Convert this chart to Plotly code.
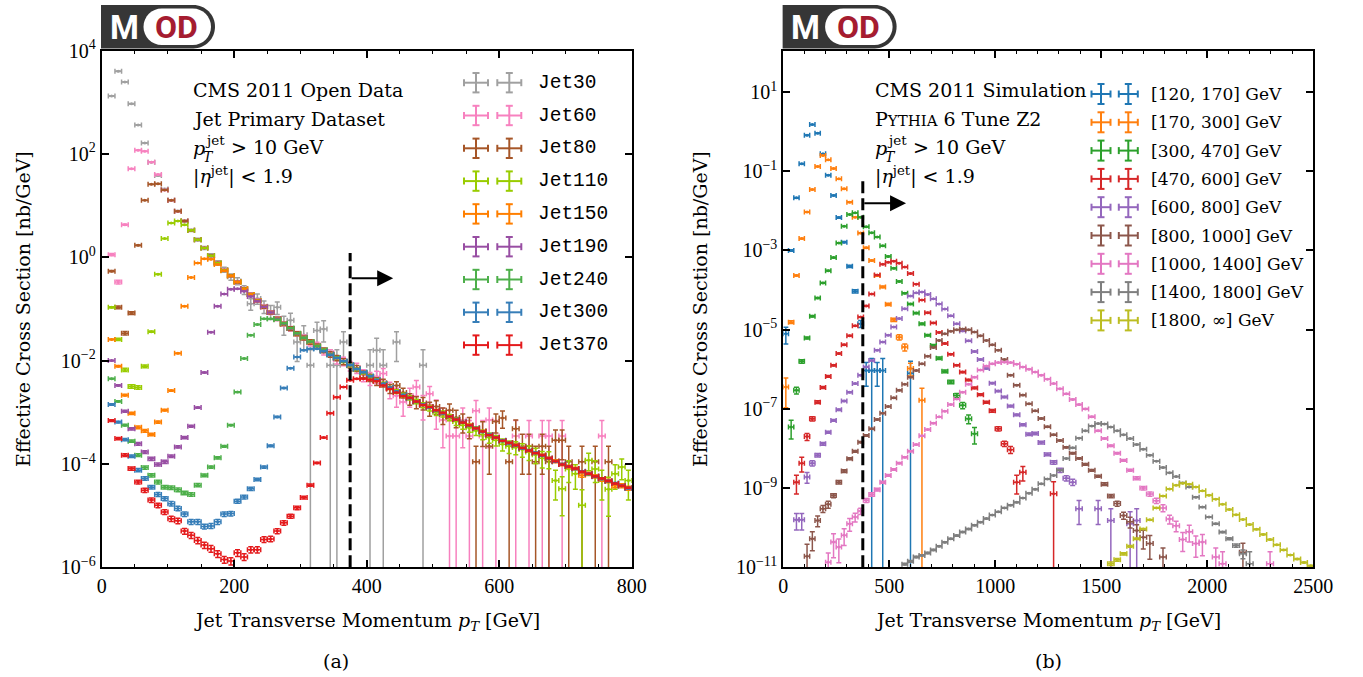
import numpy as np
import plotly.graph_objects as go

W, H = 1363, 677

# ======================= (a) CMS 2011 Open Data =======================
pt_left = list(range(15, 800, 10))          # bin centres [GeV], 10 GeV bins
pt_left_halfwidth = 5.0
left_names = ["Jet30", "Jet60", "Jet80", "Jet110", "Jet150", "Jet190", "Jet240", "Jet300", "Jet370"]
left_colors = ["#a0a0a0", "#f781bf", "#a65628", "#99cc00", "#ff7f00", "#984ea3", "#4daf4a", "#377eb8", "#e41a1c"]

# log10 of the effective cross section [nb/GeV] (None = empty bin)
jet30_log = [3.12, 3.60, 3.39, 2.97, 2.56, 2.21, 1.84, 1.58, 1.32, 1.10,
             0.89, 0.70, 0.52, 0.34, 0.18, 0.03, -0.11, -0.24, -0.38, -0.46,
             -0.63, -0.90, -0.80, -0.95, -1.05, -0.97, -1.29, -1.22, -1.64, -1.50,
             -2.09, -1.42, -1.39, -2.09, -2.09, -1.64, None, None, None, -2.09,
             -1.80, -2.09, None, -1.64, None, None, None, -2.09]
jet30_err = [0.01, 0.01, 0.01, 0.01, 0.01, 0.01, 0.02, 0.02, 0.02, 0.03,
             0.03, 0.04, 0.05, 0.06, 0.07, 0.09, 0.10, 0.11, 0.14, 0.15,
             0.19, 0.25, 0.22, 0.27, 0.30, 0.27, 0.40, 0.37, 0.58, 0.49,
             1.0, 0.45, 0.44, 1.0, 1.0, 0.58, 0, 0, 0, 1.0,
             0.71, 1.0, 0, 0.58, 0, 0, 0, 1.0]

jet60_log = [0.05, -0.48, 0.63, 1.71, 2.07, 2.05, 1.84, 1.60, 1.30, 1.10,
             0.89, 0.70, 0.52, 0.34, 0.18, 0.03, -0.11, -0.25, -0.36, -0.48,
             -0.61, -0.72, -0.84, -0.96, -1.07, -1.19, -1.29, -1.38, -1.48, -1.55,
             -1.66, -1.70, -1.82, -1.85, -1.98, -2.01, -2.10, -2.14, -2.28, -2.34,
             -2.31, -2.25, -2.55, -2.68, -2.80, -2.68, -2.51, -2.85, -2.64, -2.96,
             -3.15, -3.46, -3.46, -3.15, -3.46, -2.97, -3.46, -3.15, -3.46, None,
             None, -3.46, None, -3.46, None, -3.46, -3.46, None, -3.46, None,
             None, None, None, None, -3.46]
jet60_err = [0.05, 0.08, 0.03, 0.01, 0.01, 0.01, 0.01, 0.01, 0.02, 0.02,
             0.02, 0.02, 0.03, 0.03, 0.03, 0.04, 0.04, 0.05, 0.05, 0.06,
             0.06, 0.07, 0.07, 0.08, 0.08, 0.09, 0.09, 0.10, 0.10, 0.11,
             0.12, 0.13, 0.15, 0.15, 0.18, 0.19, 0.21, 0.22, 0.26, 0.28,
             0.27, 0.25, 0.35, 0.40, 0.47, 0.40, 0.33, 0.50, 0.38, 0.57,
             0.71, 1.0, 1.0, 0.71, 1.0, 0.57, 1.0, 0.71, 1.0, 0,
             0, 1.0, 0, 1.0, 0, 1.0, 1.0, 0, 1.0, 0,
             0, 0, 0, 0, 1.0]

jet80_log = [-0.27, -0.97, -1.47, -1.08, 0.23, 1.10, 1.41, 1.42, 1.30, 1.10,
             0.89, 0.70, 0.52, 0.34, 0.18, 0.03, -0.11, -0.25, -0.36, -0.48,
             -0.61, -0.72, -0.84, -0.96, -1.07, -1.19, -1.29, -1.38, -1.48, -1.56,
             -1.64, -1.72, -1.80, -1.88, -1.95, -2.02, -2.09, -2.15, -2.26, -2.33,
             -2.40, -2.43, -2.54, -2.48, -2.62, -2.74, -2.80, -2.82, -2.92, -2.89,
             -3.05, -2.96, -3.10, -3.18, -3.26, -3.96, -3.36, -3.66, -3.18, -3.11,
             -3.96, -3.32, -3.66, -3.66, -3.96, -3.66, -3.96, -3.54, -3.54, -3.96,
             None, -3.96, None, -3.96, None, -3.96]
jet80_err = [0.03, 0.06, 0.08, 0.06, 0.02, 0.01, 0.01, 0.01, 0.01, 0.01,
             0.01, 0.02, 0.02, 0.02, 0.02, 0.03, 0.03, 0.03, 0.04, 0.04,
             0.04, 0.05, 0.05, 0.06, 0.06, 0.07, 0.07, 0.08, 0.09, 0.09,
             0.10, 0.10, 0.11, 0.12, 0.12, 0.13, 0.12, 0.13, 0.15, 0.16,
             0.17, 0.17, 0.20, 0.18, 0.21, 0.25, 0.26, 0.27, 0.30, 0.29,
             0.35, 0.32, 0.37, 0.40, 0.44, 1.0, 0.50, 0.71, 0.40, 0.37,
             1.0, 0.48, 0.71, 0.71, 1.0, 0.71, 1.0, 0.58, 0.58, 1.0,
             0, 1.0, 0, 1.0, 0, 1.0]

jet110_log = [-0.97, -1.59, -2.18, -2.50, -2.52, -2.11, -1.44, -0.33, 0.36, 0.66,
              0.70, 0.63, 0.52, 0.34, 0.18, 0.03, -0.11, -0.25, -0.36, -0.48,
              -0.61, -0.72, -0.84, -0.96, -1.07, -1.19, -1.29, -1.38, -1.48, -1.56,
              -1.64, -1.72, -1.80, -1.88, -1.95, -2.02, -2.09, -2.17, -2.24, -2.31,
              -2.38, -2.45, -2.53, -2.60, -2.67, -2.72, -2.79, -2.86, -2.92, -3.00,
              -3.03, -3.10, -3.18, -3.25, -3.30, -3.36, -3.43, -3.49, -3.54, -3.62,
              -3.66, -3.68, -3.72, -3.77, -3.82, -3.89, -3.90, -4.32, -4.48, -4.10,
              -4.19, -4.80, -3.93, -4.10, -4.32, -4.49, -4.19, -4.06, -4.32]
jet110_err = [0.03, 0.05, 0.07, 0.08, 0.08, 0.06, 0.03, 0.01, 0.01, 0.01,
              0.01, 0.01, 0.01, 0.01, 0.01, 0.01, 0.01, 0.01, 0.01, 0.01,
              0.02, 0.02, 0.02, 0.02, 0.02, 0.02, 0.03, 0.03, 0.03, 0.03,
              0.03, 0.03, 0.04, 0.04, 0.04, 0.04, 0.05, 0.05, 0.05, 0.06,
              0.06, 0.07, 0.07, 0.08, 0.09, 0.09, 0.10, 0.11, 0.12, 0.13,
              0.13, 0.14, 0.16, 0.17, 0.18, 0.19, 0.21, 0.22, 0.23, 0.26,
              0.27, 0.28, 0.29, 0.31, 0.33, 0.35, 0.36, 0.58, 0.70, 0.45,
              0.50, 1.0, 0.37, 0.45, 0.58, 0.70, 0.50, 0.43, 0.58]

jet150_log = [-1.59, -2.11, -2.67, -3.02, -3.29, -3.36, -3.43, -3.19, -2.96, -2.58,
              -1.86, -0.95, -0.39, -0.11, -0.03, -0.04, -0.14, -0.26, -0.36, -0.48,
              -0.61, -0.72, -0.84, -0.96, -1.07, -1.19, -1.29, -1.38, -1.48, -1.56,
              -1.64, -1.72, -1.80, -1.88, -1.95, -2.02, -2.09, -2.17, -2.24, -2.31,
              -2.38, -2.45, -2.53, -2.60, -2.67, -2.72, -2.79, -2.86, -2.90, -2.96,
              -3.01, -3.08, -3.14, -3.20, -3.25, -3.31, -3.37, -3.44, -3.49, -3.55,
              -3.59, -3.64, -3.69, -3.74, -3.79, -3.83, -3.89, -3.95, -4.01, -4.05,
              -4.09, -4.22, -4.19, -4.24, -4.30, -4.33, -4.42, -4.42, -4.47]
jet150_err = [0.02, 0.03, 0.04, 0.05, 0.06, 0.06, 0.06, 0.05, 0.04, 0.03,
              0.02, 0.01, 0.01, 0.01, 0.01, 0.01, 0.01, 0.01, 0.01, 0.01,
              0.01, 0.01, 0.01, 0.01, 0.01, 0.01, 0.01, 0.01, 0.01, 0.01,
              0.02, 0.02, 0.02, 0.02, 0.02, 0.02, 0.02, 0.02, 0.02, 0.02,
              0.02, 0.02, 0.02, 0.02, 0.02, 0.03, 0.03, 0.03, 0.03, 0.03,
              0.03, 0.03, 0.03, 0.03, 0.04, 0.04, 0.04, 0.04, 0.04, 0.04,
              0.05, 0.05, 0.05, 0.05, 0.05, 0.05, 0.06, 0.06, 0.06, 0.06,
              0.06, 0.08, 0.07, 0.07, 0.08, 0.08, 0.09, 0.09, 0.09]

jet190_log = [-2.00, -2.48, -2.98, -3.32, -3.61, -3.77, -3.90, -4.01, -3.96, -3.85,
              -3.67, -3.49, -3.27, -2.91, -2.23, -1.45, -0.95, -0.71, -0.62, -0.61,
              -0.66, -0.76, -0.85, -0.96, -1.07, -1.19, -1.29, -1.38, -1.48, -1.56,
              -1.64, -1.72, -1.80, -1.87, -1.95, -2.02, -2.09, -2.17, -2.24, -2.31,
              -2.38, -2.45, -2.53, -2.60, -2.67, -2.72, -2.79, -2.86, -2.90, -2.96,
              -3.02, -3.08, -3.14, -3.20, -3.26, -3.31, -3.37, -3.44, -3.49, -3.55,
              -3.59, -3.64, -3.69, -3.74, -3.79, -3.83, -3.89, -3.95, -4.01, -4.05,
              -4.09, -4.15, -4.19, -4.24, -4.28, -4.33, -4.38, -4.42, -4.47]
jet190_err = [0.02, 0.03, 0.04, 0.05, 0.06, 0.06, 0.07, 0.07, 0.07, 0.06,
              0.05, 0.05, 0.04, 0.03, 0.02, 0.01, 0.01, 0.01, 0.01, 0.01,
              0.01, 0.01, 0.01, 0.01, 0.01, 0.01, 0.01, 0.01, 0.01, 0.01,
              0.01, 0.01, 0.01, 0.01, 0.01, 0.01, 0.01, 0.01, 0.01, 0.01,
              0.02, 0.02, 0.02, 0.02, 0.02, 0.02, 0.02, 0.02, 0.02, 0.02,
              0.02, 0.02, 0.02, 0.02, 0.02, 0.02, 0.02, 0.02, 0.02, 0.02,
              0.03, 0.03, 0.03, 0.03, 0.03, 0.03, 0.03, 0.03, 0.03, 0.03,
              0.03, 0.03, 0.03, 0.03, 0.03, 0.03, 0.03, 0.03, 0.03]

jet240_log = [-2.35, -2.79, -3.25, -3.56, -3.83, -4.07, -4.22, -4.35, -4.45, -4.46,
              -4.50, -4.56, -4.59, -4.41, -4.22, -4.06, -3.88, -3.66, -3.25, -2.61,
              -1.96, -1.51, -1.30, -1.19, -1.19, -1.21, -1.28, -1.37, -1.47, -1.56,
              -1.63, -1.72, -1.79, -1.88, -1.94, -2.02, -2.09, -2.17, -2.23, -2.31,
              -2.38, -2.45, -2.53, -2.60, -2.67, -2.72, -2.80, -2.86, -2.90, -2.97,
              -3.01, -3.08, -3.13, -3.20, -3.25, -3.30, -3.37, -3.44, -3.49, -3.56,
              -3.59, -3.65, -3.69, -3.73, -3.79, -3.83, -3.90, -3.95, -4.01, -4.05,
              -4.09, -4.15, -4.20, -4.24, -4.28, -4.34, -4.38, -4.42, -4.46]
jet240_err = [0.02, 0.03, 0.04, 0.05, 0.06, 0.07, 0.07, 0.08, 0.08, 0.08,
              0.08, 0.08, 0.08, 0.07, 0.06, 0.05, 0.05, 0.04, 0.03, 0.02,
              0.01, 0.01, 0.01, 0.01, 0.01, 0.01, 0.01, 0.01, 0.01, 0.01,
              0.01, 0.01, 0.01, 0.01, 0.01, 0.01, 0.01, 0.01, 0.01, 0.01,
              0.01, 0.01, 0.01, 0.01, 0.01, 0.01, 0.01, 0.01, 0.01, 0.01,
              0.02, 0.02, 0.02, 0.02, 0.02, 0.02, 0.02, 0.02, 0.02, 0.02,
              0.02, 0.02, 0.02, 0.02, 0.02, 0.02, 0.02, 0.02, 0.02, 0.02,
              0.02, 0.02, 0.02, 0.02, 0.02, 0.02, 0.02, 0.02, 0.02]

jet300_log = [-2.85, -3.19, -3.53, -3.85, -4.12, -4.28, -4.45, -4.59, -4.67, -4.77,
              -4.86, -4.97, -5.12, -5.12, -5.21, -5.20, -5.12, -4.97, -4.96, -4.72,
              -4.64, -4.48, -4.30, -4.06, -3.65, -3.09, -2.53, -2.15, -1.93, -1.80,
              -1.77, -1.77, -1.82, -1.89, -1.95, -2.01, -2.08, -2.16, -2.22, -2.30,
              -2.37, -2.45, -2.52, -2.60, -2.66, -2.73, -2.79, -2.85, -2.91, -2.96,
              -3.02, -3.08, -3.14, -3.19, -3.25, -3.31, -3.38, -3.43, -3.49, -3.54,
              -3.60, -3.64, -3.70, -3.74, -3.78, -3.84, -3.89, -3.96, -4.00, -4.05,
              -4.10, -4.14, -4.19, -4.25, -4.29, -4.33, -4.37, -4.42, -4.47]
jet300_err = [0.03, 0.04, 0.05, 0.06, 0.07, 0.08, 0.08, 0.09, 0.09, 0.10,
              0.10, 0.10, 0.11, 0.11, 0.11, 0.11, 0.11, 0.10, 0.10, 0.09,
              0.08, 0.07, 0.06, 0.05, 0.04, 0.03, 0.02, 0.01, 0.01, 0.01,
              0.01, 0.01, 0.01, 0.01, 0.01, 0.01, 0.01, 0.01, 0.01, 0.01,
              0.01, 0.01, 0.01, 0.01, 0.01, 0.01, 0.01, 0.01, 0.01, 0.01,
              0.01, 0.01, 0.01, 0.01, 0.01, 0.01, 0.01, 0.01, 0.01, 0.01,
              0.02, 0.02, 0.02, 0.02, 0.02, 0.02, 0.02, 0.02, 0.02, 0.02,
              0.02, 0.02, 0.02, 0.02, 0.02, 0.02, 0.02, 0.02, 0.02]

jet370_log = [-3.16, -3.51, -3.83, -4.09, -4.35, -4.51, -4.70, -4.80, -4.93, -5.06,
              -5.10, -5.30, -5.38, -5.48, -5.57, -5.64, -5.74, -5.85, -5.88, -5.72,
              -5.80, -5.66, -5.66, -5.46, -5.45, -5.30, -5.14, -5.01, -4.85, -4.65,
              -4.41, -3.98, -3.49, -3.02, -2.71, -2.51, -2.38, -2.35, -2.35, -2.37,
              -2.40, -2.48, -2.55, -2.62, -2.69, -2.72, -2.79, -2.86, -2.90, -2.96,
              -3.01, -3.08, -3.14, -3.20, -3.25, -3.31, -3.37, -3.44, -3.49, -3.55,
              -3.59, -3.64, -3.69, -3.74, -3.79, -3.83, -3.89, -3.95, -4.01, -4.05,
              -4.09, -4.15, -4.19, -4.24, -4.28, -4.33, -4.38, -4.42, -4.46]
jet370_err = [0.04, 0.05, 0.06, 0.07, 0.08, 0.09, 0.10, 0.10, 0.11, 0.12,
              0.12, 0.13, 0.13, 0.14, 0.14, 0.15, 0.15, 0.15, 0.16, 0.15,
              0.15, 0.14, 0.14, 0.13, 0.12, 0.11, 0.10, 0.09, 0.08, 0.06,
              0.05, 0.03, 0.02, 0.01, 0.01, 0.01, 0.01, 0.01, 0.01, 0.01,
              0.01, 0.01, 0.01, 0.01, 0.01, 0.01, 0.01, 0.01, 0.01, 0.01,
              0.01, 0.01, 0.01, 0.01, 0.01, 0.01, 0.01, 0.01, 0.01, 0.01,
              0.01, 0.01, 0.01, 0.01, 0.01, 0.01, 0.01, 0.01, 0.01, 0.01,
              0.02, 0.02, 0.02, 0.02, 0.02, 0.02, 0.02, 0.02, 0.02]

left_logs = [jet30_log, jet60_log, jet80_log, jet110_log, jet150_log,
             jet190_log, jet240_log, jet300_log, jet370_log]
left_errs = [jet30_err, jet60_err, jet80_err, jet110_err, jet150_err,
             jet190_err, jet240_err, jet300_err, jet370_err]

# ======================= (b) CMS 2011 Simulation =======================
pt_right = [12, 37, 62, 87, 112, 137, 162, 187, 212, 237,
            262, 287, 313, 339, 365, 391, 417, 443, 469, 495,
            521, 547, 573, 600, 627, 654, 681, 708, 735, 762,
            790, 818, 846, 874, 902, 930, 958, 986, 1014, 1043,
            1072, 1101, 1130, 1159, 1188, 1217, 1246, 1275, 1305, 1335,
            1365, 1395, 1425, 1455, 1485, 1515, 1545, 1575, 1605, 1636,
            1667, 1698, 1729, 1760, 1791, 1822, 1853, 1884, 1915, 1946,
            1977, 2008, 2040, 2072, 2104, 2136, 2168, 2200, 2232, 2264,
            2296, 2328, 2360, 2392, 2424, 2456, 2488]
right_names = ["[120, 170] GeV", "[170, 300] GeV", "[300, 470] GeV", "[470, 600] GeV",
               "[600, 800] GeV", "[800, 1000] GeV", "[1000, 1400] GeV",
               "[1400, 1800] GeV", "[1800, ∞] GeV"]
right_colors = ["#1f77b4", "#ff7f0e", "#2ca02c", "#d62728", "#9467bd",
                "#8c564b", "#e377c2", "#7f7f7f", "#bcbd22"]
right_first_bin = [0, 0, 1, 2, 2, 4, 8, 22, 56]

bin120_log = [-5.10, -3.00, -1.67, -0.81, -0.09, 0.18, -0.04, -0.56, -1.10, -1.61,
              -2.17, -2.79, -3.40, -4.03, -4.85, -6.03, -6.03, -6.03, -6.03, None,
              None, None, None, -6.10]
bin120_err = [0.45, 0.04, 0.02, 0.01, 0.01, 0.01, 0.01, 0.01, 0.02, 0.02,
              0.03, 0.04, 0.06, 0.10, 0.20, 0.60, 1.0, 0.60, 1.0, 0,
              0, 0, 0, 1.0]

bin170_log = [-6.45, -4.81, -3.63, -2.70, -2.03, -1.46, -0.88, -0.60, -0.71, -0.93,
              -1.19, -1.44, -1.78, -2.16, -2.56, -2.93, -3.25, -3.63, -3.92, -4.36,
              -4.75, -5.19, -5.44, -5.98, None, -6.78]
bin170_err = [0.70, 0.08, 0.03, 0.02, 0.01, 0.01, 0.01, 0.01, 0.01, 0.01,
              0.01, 0.01, 0.02, 0.02, 0.02, 0.03, 0.03, 0.04, 0.05, 0.07,
              0.10, 0.15, 0.20, 0.35, 0, 1.0]

bin300_log = [-7.46, -6.53, -5.80, -5.21, -4.66, -4.20, -3.82, -3.51, -3.18, -2.81,
              -2.39, -2.09, -2.05, -2.16, -2.40, -2.55, -2.66, -2.88, -3.15, -3.45,
              -3.78, -4.08, -4.35, -4.58, -4.85, -5.14, -5.40, -5.72, -6.05, -6.32,
              -6.66, -6.91, -7.25, -7.63]
bin300_err = [0.50, 0.20, 0.10, 0.06, 0.04, 0.03, 0.02, 0.02, 0.02, 0.01,
              0.01, 0.01, 0.01, 0.01, 0.01, 0.01, 0.01, 0.02, 0.02, 0.02,
              0.02, 0.03, 0.03, 0.04, 0.05, 0.05, 0.06, 0.07, 0.08, 0.10,
              0.12, 0.18, 0.25, 0.45]

bin470_log = [-8.85, -8.37, -7.70, -7.25, -6.83, -6.46, -6.18, -5.90, -5.60, -5.38,
              -5.15, -4.90, -4.68, -4.40, -4.10, -3.62, -3.35, -3.30, -3.27, -3.32,
              -3.42, -3.58, -3.85, -4.25, -4.57, -4.83, -5.07, -5.35, -5.62, -5.90,
              -6.07, -6.27, -6.47, -6.64, -6.83, -7.05, -7.50, -7.88, -8.03, -8.85,
              -8.60, None, None, None, None, -9.14]
bin470_err = [0.50, 0.40, 0.20, 0.12, 0.08, 0.06, 0.05, 0.04, 0.03, 0.03,
              0.02, 0.02, 0.02, 0.02, 0.01, 0.01, 0.01, 0.01, 0.01, 0.01,
              0.01, 0.01, 0.01, 0.02, 0.02, 0.02, 0.02, 0.03, 0.03, 0.03,
              0.04, 0.04, 0.05, 0.05, 0.06, 0.08, 0.12, 0.15, 0.20, 0.50,
              0.40, 0, 0, 0, 0, 1.0]

bin600_log = [-9.80, -9.80, -8.72, -8.37, -8.17, -7.88, -7.59, -7.29, -7.02, -6.80,
              -6.58, -6.36, -6.15, -5.94, -5.78, -5.52, -5.31, -5.14, -4.93, -4.72,
              -4.47, -4.15, -4.07, -4.05, -4.11, -4.22, -4.35, -4.48, -4.65, -4.85,
              -5.03, -5.28, -5.55, -5.75, -5.98, -6.35, -6.55, -6.70, -6.93, -7.15,
              -7.40, -7.64, -7.62, -7.85, -8.15, -8.35, -8.55, -8.75, -8.85, -9.52,
              None, None, -9.52, None, -9.82, None, None, -9.90, -9.82]
bin600_err = [0.45, 0.45, 0.30, 0.15, 0.10, 0.08, 0.06, 0.05, 0.04, 0.03,
              0.03, 0.02, 0.02, 0.02, 0.02, 0.01, 0.01, 0.01, 0.01, 0.01,
              0.01, 0.01, 0.01, 0.01, 0.01, 0.01, 0.01, 0.01, 0.02, 0.02,
              0.02, 0.02, 0.03, 0.03, 0.03, 0.04, 0.04, 0.04, 0.05, 0.05,
              0.06, 0.07, 0.07, 0.08, 0.08, 0.10, 0.12, 0.15, 0.18, 0.60,
              0, 0, 0.60, 0, 1.0, 0, 0, 1.0, 1.0]

bin800_log = [-10.72, -10.28, -9.82, -9.52, -9.41, -9.19, -8.85, -8.57, -8.26, -8.07,
              -7.84, -7.67, -7.50, -7.27, -7.11, -6.94, -6.72, -6.53, -6.38, -6.20,
              -6.03, -5.86, -5.67, -5.45, -5.27, -5.10, -5.04, -5.00, -4.98, -5.00,
              -5.06, -5.15, -5.27, -5.38, -5.52, -5.75, -6.15, -6.40, -6.65, -6.87,
              -7.05, -7.24, -7.45, -7.65, -7.80, -7.97, -8.12, -8.25, -8.40, -8.55,
              -8.70, -8.90, -9.20, -9.39, -9.69, -9.85, -10.07, -10.24, -10.40, None,
              -10.74, None, None, None, None, None, None, None, None, None,
              None, None, -10.62]
bin800_err = [1.0, 0.50, 0.30, 0.20, 0.20, 0.12, 0.10, 0.08, 0.06, 0.05,
              0.04, 0.04, 0.03, 0.03, 0.02, 0.02, 0.02, 0.02, 0.01, 0.01,
              0.01, 0.01, 0.01, 0.01, 0.01, 0.01, 0.01, 0.01, 0.01, 0.01,
              0.01, 0.01, 0.01, 0.01, 0.01, 0.01, 0.02, 0.02, 0.02, 0.02,
              0.02, 0.03, 0.03, 0.03, 0.03, 0.04, 0.04, 0.04, 0.05, 0.05,
              0.06, 0.08, 0.10, 0.15, 0.20, 0.30, 0.40, 0.50, 0.60, 0,
              0.70, 0, 0, 0, 0, 0, 0, 0, 0, 0,
              0, 0, 0.70]

bin1000_log = [-10.87, -10.36, -10.49, -10.19, -9.90, -9.73, -9.58, -9.31, -9.16, -9.04,
               -8.85, -8.68, -8.53, -8.37, -8.22, -8.07, -7.90, -7.68, -7.52, -7.36,
               -7.20, -7.06, -6.89, -6.75, -6.58, -6.38, -6.20, -6.02, -5.92, -5.86,
               -5.83, -5.82, -5.83, -5.87, -5.94, -6.00, -6.07, -6.15, -6.25, -6.36,
               -6.49, -6.62, -6.76, -6.89, -7.00, -7.20, -7.55, -7.75, -7.93, -8.12,
               -8.30, -8.55, -8.75, -9.00, -9.15, -9.32, -9.50, -9.78, -9.95, -10.30,
               -10.10, -10.40, -10.36, None, -10.74, -10.91, None, None, None, None,
               None, None, -10.91]
bin1000_err = [0.70, 0.60, 0.60, 0.45, 0.35, 0.25, 0.18, 0.12, 0.10, 0.08,
               0.06, 0.05, 0.04, 0.04, 0.03, 0.03, 0.02, 0.02, 0.02, 0.02,
               0.01, 0.01, 0.01, 0.01, 0.01, 0.01, 0.01, 0.01, 0.01, 0.01,
               0.01, 0.01, 0.01, 0.01, 0.01, 0.01, 0.01, 0.01, 0.01, 0.01,
               0.01, 0.02, 0.02, 0.02, 0.02, 0.03, 0.03, 0.03, 0.04, 0.04,
               0.05, 0.06, 0.08, 0.10, 0.12, 0.15, 0.20, 0.25, 0.30, 0.50,
               0.45, 0.55, 0.55, 0, 0.70, 1.0, 0, 0, 0, 0,
               0, 0, 1.0]

bin1400_log = [-10.92, -10.85, -10.74, -10.70, -10.64, -10.56, -10.47, -10.37, -10.28, -10.20,
               -10.11, -10.03, -9.94, -9.86, -9.77, -9.68, -9.60, -9.50, -9.43, -9.36,
               -9.25, -9.13, -9.03, -8.89, -8.77, -8.68, -8.55, -8.25, -7.98, -7.74,
               -7.55, -7.43, -7.37, -7.38, -7.46, -7.55, -7.65, -7.75, -7.90, -8.02,
               -8.17, -8.32, -8.48, -8.61, -8.71, -8.87, -8.97, -9.23, -9.48, -9.73,
               -9.90, -10.11, -10.28, -10.45, -10.66, -10.91]
bin1400_err = [0.05, 0.05, 0.04, 0.04, 0.04, 0.04, 0.03, 0.03, 0.03, 0.03,
               0.03, 0.03, 0.03, 0.02, 0.02, 0.02, 0.02, 0.02, 0.02, 0.02,
               0.02, 0.02, 0.02, 0.01, 0.01, 0.01, 0.01, 0.01, 0.01, 0.01,
               0.01, 0.01, 0.01, 0.01, 0.01, 0.01, 0.01, 0.01, 0.01, 0.01,
               0.01, 0.01, 0.01, 0.01, 0.01, 0.02, 0.02, 0.02, 0.02, 0.02,
               0.03, 0.04, 0.06, 0.10, 0.25, 1.0]

bin1800_log = [-10.91, -10.81, -10.66, -10.47, -10.28, -10.03, -9.80, -9.50, -9.20, -9.02,
               -8.93, -8.88, -8.90, -8.97, -9.07, -9.18, -9.28, -9.41, -9.54, -9.67,
               -9.79, -9.92, -10.04, -10.17, -10.30, -10.43, -10.56, -10.69, -10.79, -10.88,
               -10.96]
bin1800_err = [0.10, 0.08, 0.06, 0.05, 0.04, 0.03, 0.02, 0.02, 0.02, 0.01,
               0.01, 0.01, 0.01, 0.01, 0.01, 0.01, 0.01, 0.01, 0.01, 0.01,
               0.01, 0.01, 0.02, 0.02, 0.02, 0.02, 0.02, 0.02, 0.03, 0.03,
               0.03]

right_logs = [bin120_log, bin170_log, bin300_log, bin470_log, bin600_log,
              bin800_log, bin1000_log, bin1400_log, bin1800_log]
right_errs = [bin120_err, bin170_err, bin300_err, bin470_err, bin600_err,
              bin800_err, bin1000_err, bin1400_err, bin1800_err]

left_yticks = [1e-6, 1e-4, 1e-2, 1e0, 1e2, 1e4]
right_yticks = [1e-11, 1e-9, 1e-7, 1e-5, 1e-3, 1e-1, 1e1]
trigger_threshold = 375  # GeV, dashed line

# ======================= figure =======================
fig = go.Figure()


def exp_label(v):
    p = int(round(np.log10(v)))
    return "10<sup>" + ("\u2212" if p < 0 else "") + str(abs(p)) + "</sup>"


def add_points(xs_in, logs, errs, hws_in, color, xa, ya):
    xs, ys, es, hws = [], [], [], []
    for x, lv, r, hw in zip(xs_in, logs, errs, hws_in):
        if lv is None:
            continue
        v = 10.0 ** lv
        xs.append(x)
        ys.append(v)
        es.append(v * r)
        hws.append(hw)
    fig.add_trace(go.Scatter(
        x=xs, y=ys, mode="markers", xaxis=xa, yaxis=ya,
        marker=dict(color=color, size=3),
        error_x=dict(type="data", array=hws, color=color, thickness=1.5, width=2.5),
        error_y=dict(type="data", array=es, color=color, thickness=1.5, width=2.5),
        showlegend=False, hoverinfo="skip"))


for logs, errs, col in zip(left_logs, left_errs, left_colors):
    add_points(pt_left, logs, errs, [pt_left_halfwidth] * len(pt_left), col, "x", "y")

pr = np.array(pt_right, dtype=float)
gaps = np.diff(pr)
pt_right_hw = np.empty_like(pr)
pt_right_hw[1:-1] = (gaps[:-1] + gaps[1:]) / 4.0
pt_right_hw[0] = gaps[0] / 2.0
pt_right_hw[-1] = gaps[-1] / 2.0

for first, logs, errs, col in zip(right_first_bin, right_logs, right_errs, right_colors):
    n = len(logs)
    add_points(pt_right[first:first + n], logs, errs, list(pt_right_hw[first:first + n]),
               col, "x2", "y2")

# ---------- geometry (pixels) ----------
LX0, LX1 = 101.7, 631.7
RX0, RX1 = 783.3, 1313.3
YT, YB = 50.5, 567.3


def fx(px):
    return px / W


def fy(py):
    return 1 - py / H


TICKFONT = dict(family="Liberation Serif", size=20, color="black")
SERIF = "DejaVu Serif"

common = dict(showline=True, linewidth=2, linecolor="black", mirror="allticks",
              ticks="inside", tickcolor="black", ticklen=7, tickwidth=1.5,
              showgrid=False, zeroline=False, tickfont=TICKFONT, automargin=False)

fig.update_layout(
    width=W, height=H, margin=dict(l=0, r=0, t=0, b=0, pad=0, autoexpand=False),
    paper_bgcolor="white", plot_bgcolor="white", showlegend=False,
    xaxis=dict(domain=[fx(LX0), fx(LX1)], range=[0, 800], tick0=0, dtick=200, anchor="y",
               minor=dict(ticks="inside", dtick=50, ticklen=3.5, tickwidth=1.2,
                          tickcolor="black", showgrid=False), **common),
    yaxis=dict(domain=[fy(YB), fy(YT)], type="log", range=[-6, 4], anchor="x",
               tickmode="array", tickvals=left_yticks,
               ticktext=[exp_label(v) for v in left_yticks], **common),
    xaxis2=dict(domain=[fx(RX0), fx(RX1)], range=[0, 2500], tick0=0, dtick=500, anchor="y2",
                minor=dict(ticks="inside", dtick=100, ticklen=3.5, tickwidth=1.2,
                           tickcolor="black", showgrid=False), **common),
    yaxis2=dict(domain=[fy(YB), fy(YT)], type="log", range=[-11, 2.05], anchor="x2",
                tickmode="array", tickvals=right_yticks,
                ticktext=[exp_label(v) for v in right_yticks], **common),
)

shapes = []
annots = []

# dashed trigger-threshold lines and arrows
shapes.append(dict(type="line", xref="x", yref="paper", x0=trigger_threshold, x1=trigger_threshold,
                   y0=fy(YB), y1=fy(253), line=dict(color="black", width=3, dash="12px,5px")))
shapes.append(dict(type="line", xref="x2", yref="paper", x0=trigger_threshold, x1=trigger_threshold,
                   y0=fy(YB), y1=fy(177.3), line=dict(color="black", width=3, dash="12px,5px")))
annots.append(dict(x=440, y=-0.408, ax=trigger_threshold, ay=-0.408, xref="x", yref="y",
                   axref="x", ayref="y", text="", showarrow=True, arrowhead=2,
                   arrowsize=1.6, arrowwidth=2, arrowcolor="black"))
annots.append(dict(x=579, y=-1.81, ax=trigger_threshold, ay=-1.81, xref="x2", yref="y2",
                   axref="x2", ayref="y2", text="", showarrow=True, arrowhead=2,
                   arrowsize=1.6, arrowwidth=2, arrowcolor="black"))


def text(px, py, s, size=19, family=SERIF, xanchor="left", color="black", angle=0):
    annots.append(dict(x=fx(px), y=fy(py), xref="paper", yref="paper", text=s,
                       showarrow=False, xanchor=xanchor, yanchor="middle", textangle=angle,
                       borderpad=0, font=dict(family=family, size=size, color=color)))


# info text blocks
for x0, lines in ((192.3, ["CMS 2011 Open Data", "Jet Primary Dataset"]),
                  (874.3, ["CMS 2011 Simulation",
                           "P<span style='font-size:15px'>YTHIA</span> 6 Tune Z2"])):
    text(x0, 90, lines[0])
    text(x0, 118.5, lines[1])
    text(x0, 148, "<i>p</i>")
    text(x0 + 11.5, 140, "jet", size=13.5)
    text(x0 + 10.0, 157, "<i>T</i>", size=14)
    text(x0 + 37.5, 147, "&gt; 10 GeV")
    text(x0, 176, "|<i>η</i><sup>jet</sup>| &lt; 1.9")


# legends (two error-bar crosses per entry, like matplotlib numpoints=2)
def cross(cx, cy, hx, hy, cap, color):
    segs = [(cx - hx, cy, cx + hx, cy), (cx, cy - hy, cx, cy + hy),
            (cx - hx, cy - cap, cx - hx, cy + cap), (cx + hx, cy - cap, cx + hx, cy + cap),
            (cx - cap, cy - hy, cx + cap, cy - hy), (cx - cap, cy + hy, cx + cap, cy + hy)]
    for x0, y0, x1, y1 in segs:
        shapes.append(dict(type="line", xref="paper", yref="paper",
                           x0=fx(x0), y0=fy(y0), x1=fx(x1), y1=fy(y1),
                           line=dict(color=color, width=2)))


for k, (name, col) in enumerate(zip(left_names, left_colors)):
    cy = 82.7 + 32.8 * k
    cross(476.0, cy, 12, 9.7, 3.5, col)
    cross(509.3, cy, 12, 9.7, 3.5, col)
    text(536.7, cy, name, size=19.5, family="Liberation Mono")

for k, (name, col) in enumerate(zip(right_names, right_colors)):
    cy = 94.0 + 28.3 * k
    cross(1101.0, cy, 9.5, 10, 3.5, col)
    cross(1128.3, cy, 9.5, 10, 3.5, col)
    text(1150.0, cy, name, size=17)

# axis titles and panel labels
for cx, cxt in ((23, (LX0 + LX1) / 2), (700, (RX0 + RX1) / 2)):
    text(cx, (YT + YB) / 2, "Effective Cross Section [nb/GeV]", xanchor="center", angle=-90)
    text(cxt, 621, "Jet Transverse Momentum <i>p<sub>T</sub></i> [GeV]", xanchor="center")
text(336, 661, "(a)", xanchor="center")
text(1048, 661, "(b)", xanchor="center")


# MOD logos
def P(x, y):
    return f"{x:.2f},{-y:.2f}"


def stadium(x0, x1, cy, r, left_round):
    k = 0.5523 * r
    s = "M" + (P(x0 + r, cy - r) if left_round else P(x0, cy - r))
    s += " L" + P(x1 - r, cy - r)
    s += " C" + P(x1 - r + k, cy - r) + " " + P(x1, cy - k) + " " + P(x1, cy)
    s += " C" + P(x1, cy + k) + " " + P(x1 - r + k, cy + r) + " " + P(x1 - r, cy + r)
    if left_round:
        s += " L" + P(x0 + r, cy + r)
        s += " C" + P(x0 + r - k, cy + r) + " " + P(x0, cy + k) + " " + P(x0, cy)
        s += " C" + P(x0, cy - k) + " " + P(x0 + r - k, cy - r) + " " + P(x0 + r, cy - r)
    else:
        s += " L" + P(x0, cy + r)
    return s + " Z"


for ox in (0.0, 681.6):
    for path, fill in ((stadium(101 + ox, 215 + ox, 26.7, 21.7, False), "#363636"),
                       (stadium(143.5 + ox, 211 + ox, 26.7, 18.3, True), "white")):
        shapes.append(dict(type="path", path=path, xref="paper", yref="paper",
                           xsizemode="pixel", ysizemode="pixel", xanchor=0, yanchor=1,
                           fillcolor=fill, line=dict(width=0)))
    text(124 + ox, 27.5, "<b>M</b>", size=33, family="Roboto", xanchor="center", color="white")
    text(176.5 + ox, 27.5, "<b>OD</b>", size=32, family="Roboto", xanchor="center", color="#a51c30")

fig.update_layout(shapes=shapes, annotations=annots)

fig.write_html("out.html", config={"displayModeBar": False},
               post_script="document.body.style.margin='0';")
